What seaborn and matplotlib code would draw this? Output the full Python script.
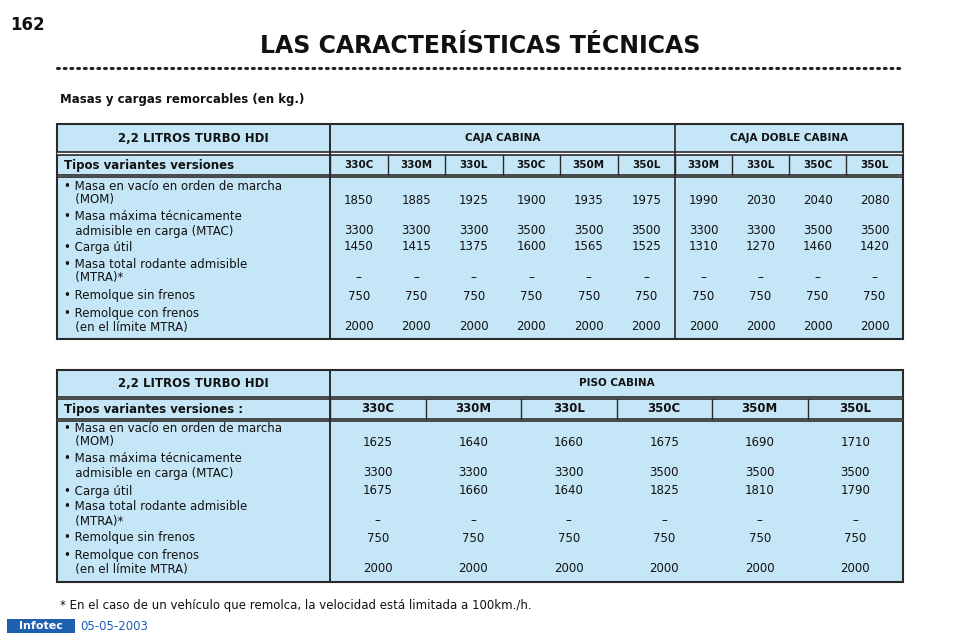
import matplotlib
matplotlib.use("Agg")
import matplotlib.pyplot as plt
import seaborn as sns
from matplotlib.patches import Rectangle

sns.set_style("white")

row_labels = [["• Masa en vacío en orden de marcha", "   (MOM)"],
              ["• Masa máxima técnicamente", "   admisible en carga (MTAC)"],
              ["• Carga útil"],
              ["• Masa total rodante admisible", "   (MTRA)*"],
              ["• Remolque sin frenos"],
              ["• Remolque con frenos", "   (en el límite MTRA)"]]

t1_cols = ["330C", "330M", "330L", "350C", "350M", "350L", "330M", "330L", "350C", "350L"]
t1_mom = [1850, 1885, 1925, 1900, 1935, 1975, 1990, 2030, 2040, 2080]
t1_mtac = [3300, 3300, 3300, 3500, 3500, 3500, 3300, 3300, 3500, 3500]
t1_carga = [1450, 1415, 1375, 1600, 1565, 1525, 1310, 1270, 1460, 1420]
t1_mtra = ["–"] * 10
t1_sin = [750] * 10
t1_con = [2000] * 10

t2_cols = ["330C", "330M", "330L", "350C", "350M", "350L"]
t2_mom = [1625, 1640, 1660, 1675, 1690, 1710]
t2_mtac = [3300, 3300, 3300, 3500, 3500, 3500]
t2_carga = [1675, 1660, 1640, 1825, 1810, 1790]
t2_mtra = ["–"] * 6
t2_sin = [750] * 6
t2_con = [2000] * 6

BLUE = "#c4e6f7"
DARK = "#2a2a2a"
FONT = "DejaVu Sans"

fig = plt.figure(figsize=(9.6, 6.39), dpi=100)
ax = fig.add_axes([0, 0, 1, 1])
ax.set_xlim(0, 960); ax.set_ylim(639, 0); ax.axis("off")

def T(x, y, s, **kw):
    kw.setdefault("fontsize", 8.5); kw.setdefault("va", "center"); kw.setdefault("color", "#111")
    ax.text(x, y, s, family=FONT, **kw)

T(28, 25, "162", fontsize=12, weight="bold", ha="center")
T(480, 46, "LAS CARACTERÍSTICAS TÉCNICAS", fontsize=17, weight="bold", ha="center")
ax.plot([57, 903], [68, 68], color="#222", lw=2.2, ls=(0, (0.6, 1.6)), solid_capstyle="round", dash_capstyle="round")
T(60, 99, "Masas y cargas remorcables (en kg.)", fontsize=8.5, weight="bold")

def table(top, hdr_b, sub_t, sub_b, bot, groups, cols, x0, x1, data, sub_label, line_ys):
    ax.add_patch(Rectangle((57, top), 846, bot - top, fc=BLUE, ec=DARK, lw=1.5))
    ax.add_patch(Rectangle((57, hdr_b), 846, sub_t - hdr_b, fc="white", ec="none"))
    ax.add_patch(Rectangle((57, sub_b), 846, 2, fc="white", ec="none"))
    for y in (hdr_b, sub_t, sub_b, sub_b + 2):
        ax.plot([57, 903], [y, y], color=DARK, lw=1.2)
    ax.plot([330, 330], [top, bot], color=DARK, lw=1.2)
    T(193, (top + hdr_b) / 2, "2,2 LITROS TURBO HDI", weight="bold", ha="center")
    for gx0, gx1, name in groups:
        ax.plot([gx0, gx0], [top, bot], color=DARK, lw=1.2)
        T((gx0 + gx1) / 2, (top + hdr_b) / 2, name, fontsize=7.5, weight="bold", ha="center")
    n = len(cols)
    xs = []
    for i, c in enumerate(cols):
        a, b = x0[i], x1[i]
        xs.append((a + b) / 2)
        ax.plot([a, a], [sub_t, sub_b], color=DARK, lw=1)
        T((a + b) / 2, (sub_t + sub_b) / 2, c, fontsize=7.5 if n > 6 else 8.5, weight="bold", ha="center")
    T(64, (sub_t + sub_b) / 2, sub_label, weight="bold", fontsize=8.5)
    li = 0
    for r, lab in enumerate(row_labels):
        for s in lab:
            T(64, line_ys[li], s); li += 1
        y = line_ys[li - 1]
        for i, v in enumerate(data[r]):
            T(xs[i], y, str(v), ha="center")

w1 = [330 + i * 57.5 for i in range(6)] + [675 + i * 57 for i in range(4)]
e1 = w1[1:] + [903]
table(124, 152, 155, 175, 339, [(330, 675, "CAJA CABINA"), (675, 903, "CAJA DOBLE CABINA")],
      t1_cols, w1, e1, [t1_mom, t1_mtac, t1_carga, t1_mtra, t1_sin, t1_con],
      "Tipos variantes versiones", [187, 200, 217, 231, 247, 264, 278, 296, 313, 327])

w2 = [330 + i * 95.5 for i in range(6)]
e2 = w2[1:] + [903]
table(370, 397, 399, 419, 582, [(330, 903, "PISO CABINA")],
      t2_cols, w2, e2, [t2_mom, t2_mtac, t2_carga, t2_mtra, t2_sin, t2_con],
      "Tipos variantes versiones :", [429, 442, 459, 473, 491, 507, 521, 538, 555, 569])

T(60, 605, "* En el caso de un vehículo que remolca, la velocidad está limitada a 100km./h.", fontsize=8.5)
ax.add_patch(Rectangle((7, 619), 68, 14, fc="#1f5fb0", ec="none"))
T(41, 626, "Infotec", fontsize=8, weight="bold", color="white", ha="center")
T(80, 626, "05-05-2003", fontsize=8.5, color="#1f5fb0")

fig.savefig("out.png", dpi=100)
